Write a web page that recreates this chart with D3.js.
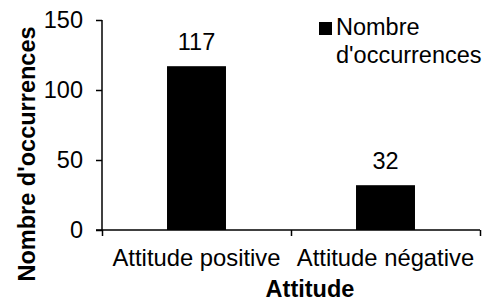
<!DOCTYPE html>
<html>
<head>
<meta charset="utf-8">
<script src="https://cdn.jsdelivr.net/npm/d3@7"></script>
<style>
  body { margin: 0; background: #fff; }
  text { font-family: "Liberation Sans", Arial, sans-serif; fill: #000; }
</style>
</head>
<body>
<div class="chart"></div>
<script>
// data
var categories = ["Attitude positive", "Attitude négative"];
var values = [117, 32];
var yTicks = [0, 50, 100, 150];
var seriesName = ["Nombre", "d'occurrences"];

var widthSVG = 485;
var heightSVG = 301;

var plot = { left: 102, right: 480, top: 20, bottom: 230 };

var svg = d3.select(".chart")
  .append("svg")
  .attr("width", widthSVG)
  .attr("height", heightSVG);

// scales
var xScale = d3.scaleBand()
  .domain(categories)
  .range([plot.left, plot.right])
  .padding(0);

var yScale = d3.scaleLinear()
  .domain([0, 150])
  .range([plot.bottom, plot.top]);

var barWidth = xScale.bandwidth() * 0.312;

// bars
svg.selectAll(".bar")
  .data(values)
  .enter()
  .append("rect")
  .attr("class", "bar")
  .attr("x", (d, i) => xScale(categories[i]) + xScale.bandwidth() / 2 - barWidth / 2)
  .attr("y", d => yScale(d))
  .attr("width", barWidth)
  .attr("height", d => yScale(0) - yScale(d))
  .attr("fill", "#000");

// value labels
svg.selectAll(".valueLabel")
  .data(values)
  .enter()
  .append("text")
  .attr("class", "valueLabel")
  .attr("x", (d, i) => xScale(categories[i]) + xScale.bandwidth() / 2)
  .attr("y", d => yScale(d) - 16)
  .attr("text-anchor", "middle")
  .attr("font-size", 23.5)
  .text(d => d);

// y axis
var leftAxis = d3.axisLeft(yScale)
  .tickValues(yTicks)
  .tickSize(6)
  .tickPadding(13);

var yAxisG = svg.append("g")
  .attr("transform", `translate(${plot.left}, 0)`)
  .call(leftAxis);

yAxisG.select(".domain").attr("d", `M0,${plot.top}V${plot.bottom}`).attr("stroke", "#000").attr("stroke-width", 1.5);
yAxisG.selectAll(".tick line").attr("stroke", "#000").attr("stroke-width", 1.5);
yAxisG.selectAll(".tick text")
  .attr("font-size", 23.5)
  .attr("font-family", "Liberation Sans, Arial, sans-serif")
  .attr("fill", "#000");

// x axis: tick marks on category boundaries (a linear scale over the bands)
var xBoundary = d3.scaleLinear()
  .domain([0, categories.length])
  .range([plot.left, plot.right]);

var bottomAxis = d3.axisBottom(xBoundary)
  .tickValues(d3.range(categories.length + 1))
  .tickSize(6)
  .tickFormat("");

var xAxisG = svg.append("g")
  .attr("transform", `translate(0, ${plot.bottom})`)
  .call(bottomAxis);

xAxisG.select(".domain").attr("d", `M${plot.left - 6},0H${plot.right}`).attr("stroke", "#000").attr("stroke-width", 1.5);
xAxisG.selectAll(".tick line").attr("stroke", "#000").attr("stroke-width", 1.5);

// category labels
svg.selectAll(".catLabel")
  .data(categories)
  .enter()
  .append("text")
  .attr("class", "catLabel")
  .attr("x", d => xScale(d) + xScale.bandwidth() / 2)
  .attr("y", 266)
  .attr("text-anchor", "middle")
  .attr("font-size", 23.8)
  .text(d => d);

// axis titles
svg.append("text")
  .attr("transform", "translate(35, 154) rotate(-90)")
  .attr("text-anchor", "middle")
  .attr("font-size", 23.5)
  .attr("font-weight", "bold")
  .text("Nombre d'occurrences");

svg.append("text")
  .attr("x", 310)
  .attr("y", 297)
  .attr("text-anchor", "middle")
  .attr("font-size", 23.5)
  .attr("font-weight", "bold")
  .text("Attitude");

// legend
var legend = svg.append("g").attr("transform", "translate(319, 22)");

legend.append("rect")
  .attr("width", 13)
  .attr("height", 13)
  .attr("fill", "#000");

legend.selectAll("text")
  .data(seriesName)
  .enter()
  .append("text")
  .attr("x", 17)
  .attr("y", (d, i) => 13 + i * 28)
  .attr("font-size", 23.5)
  .text(d => d);
</script>
</body>
</html>
